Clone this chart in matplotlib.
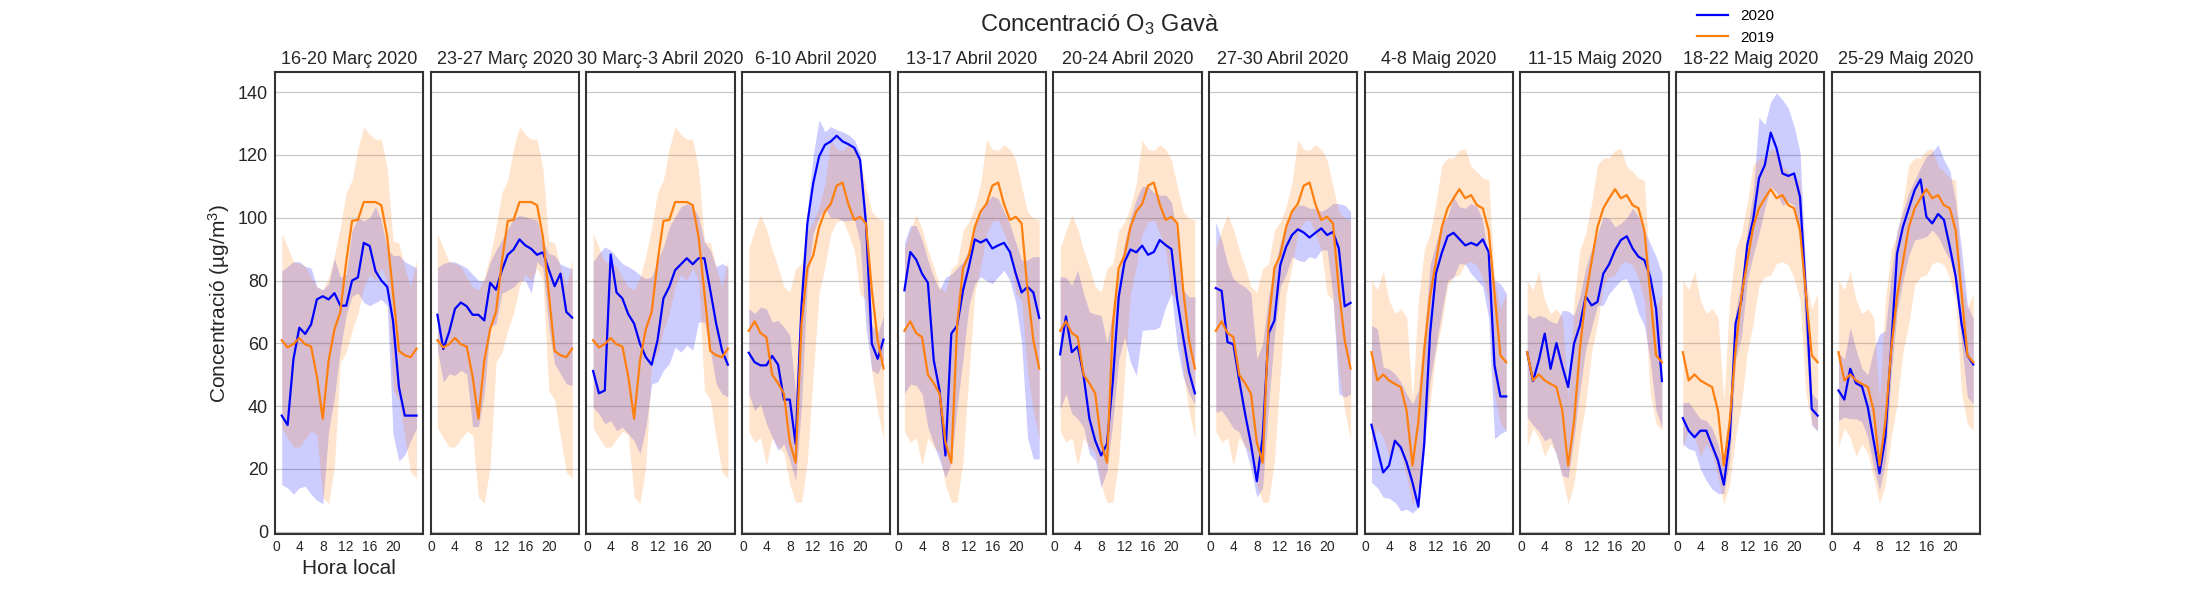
import matplotlib
matplotlib.use('Agg')
import matplotlib.pyplot as plt

plt.rcParams['font.family'] = ['Liberation Sans', 'DejaVu Sans']
plt.rcParams['mathtext.default'] = 'regular'

hours = list(range(1, 25))

titles = ['16-20 Març 2020', '23-27 Març 2020', '30 Març-3 Abril 2020', '6-10 Abril 2020',
          '13-17 Abril 2020', '20-24 Abril 2020', '27-30 Abril 2020', '4-8 Maig 2020',
          '11-15 Maig 2020', '18-22 Maig 2020', '25-29 Maig 2020']

# 2019 (mitjana mensual, mateixa per a totes les setmanes del mes)
mar_2019 = [61, 58.7, 59.8, 61.7, 59.7, 59, 49.5, 36, 54.5, 64.5, 70, 86, 99, 99.3, 105, 105, 105, 104, 94, 76, 57.6, 56.2, 55.6, 58.3]
mar_2019_hi = [95, 90.5, 86, 85.5, 84.5, 81, 78, 77, 81, 88, 97, 108, 112, 122, 129, 126.5, 125, 125, 115.5, 92.5, 92, 84, 78, 87]
mar_2019_lo = [33, 30, 27, 27, 29.5, 32, 31, 11, 9, 21, 54, 57, 64, 69.5, 78, 82, 80, 84, 80, 45, 42, 30, 19, 17]

apr_2019 = [64, 67, 63.3, 62, 50, 47.3, 44, 28.5, 22, 66, 84, 88, 97, 102, 104.4, 110.2, 111.2, 104.3, 99.3, 100.3, 98.2, 77, 61, 52]
apr_2019_hi = [90.2, 96, 100.9, 96.6, 89.7, 84.4, 78, 76.4, 83.8, 85.4, 96, 98.7, 103.5, 111, 124.8, 121.8, 121.4, 123.2, 121.8, 118.4, 109.9, 101.9, 99.8, 99.3]
apr_2019_lo = [32, 28.5, 30, 21, 30, 27, 25, 15, 9.4, 9.4, 22.7, 50, 75.8, 84.4, 95, 98.7, 99.3, 95, 89.7, 75.8, 73.7, 51, 38.5, 29.5]

may_2019 = [57.2, 48.2, 50.1, 48.2, 47.1, 46.1, 38.6, 21.1, 35, 58, 75, 86, 97, 103, 106.2, 109.1, 106.2, 107.2, 104, 103, 96, 76, 56.2, 54]
may_2019_hi = [80, 77, 83, 73.7, 69.5, 71, 68.4, 42, 73.7, 89.7, 95, 104.6, 116.8, 119, 119, 121.5, 122, 116.3, 114.7, 112.6, 112, 80, 71, 76]
may_2019_lo = [27, 33, 30, 24, 28, 25, 17.3, 8.8, 15.2, 30, 40.7, 57.2, 66.3, 78.5, 81.2, 81.7, 85.4, 86, 84.9, 80.6, 73.7, 44, 34.4, 32.2]

# 2020, una setmana per panell
w1 = [37, 34, 55, 65, 63, 66, 74, 75, 74, 76, 72, 72, 80, 81, 92, 91, 83, 80, 78, 67, 46, 37, 37, 37]
w1_hi = [83, 84.5, 86, 86, 84.5, 84, 78, 77, 79, 87, 81, 82, 96, 100, 99, 100, 103.5, 99, 90, 88, 88, 86, 85, 84]
w1_lo = [15, 14, 12, 14, 14.5, 12, 10, 9, 32, 43, 58, 69, 75, 76, 73, 72, 73, 74, 72, 31, 22.5, 24.5, 29, 33]

w2 = [69.1, 58.2, 63.6, 71, 73, 71.8, 69.1, 69.1, 67.3, 79.3, 77.1, 83.3, 88.2, 89.9, 93.1, 91.2, 90.1, 88.2, 89, 83.5, 78.2, 82.2, 70, 68.2]
w2_hi = [84.1, 85.4, 86, 85.9, 85, 84, 82, 80, 80, 85.9, 89.7, 92.9, 96.5, 99.7, 100.7, 100.3, 99.7, 99.3, 92.7, 88.6, 88, 85.2, 84.4, 83.7]
w2_lo = [58, 47.7, 50.3, 49.8, 51.4, 50.3, 33.5, 33.5, 44, 65.2, 66.3, 75.9, 76.9, 78, 80, 80, 76, 86, 84, 65, 53.5, 50.3, 47.1, 46.6]

w3 = [51.2, 44.1, 45, 88.3, 76.2, 74.3, 69.3, 66.3, 59.9, 55.6, 53.2, 61, 74.3, 78, 83.3, 85.2, 87.1, 85.2, 87.1, 87.1, 76.9, 66.3, 57.8, 53.2]
w3_hi = [86, 88.6, 90.7, 89.7, 87.6, 85.4, 84.4, 83.3, 81.7, 80.6, 81.2, 86.5, 90.7, 97.1, 100.3, 103.5, 104.4, 103.5, 100.3, 92.3, 89.7, 84.4, 85.4, 84.4]
w3_lo = [39.7, 37.6, 34.4, 35.4, 32.2, 33.3, 31.2, 29, 24.8, 33.3, 47.1, 47.7, 51.4, 53.5, 58.8, 57.2, 59.4, 57.8, 66.8, 66.8, 57.8, 47.1, 43.9, 42.9]

w4 = [57, 54, 53, 53, 56, 53.2, 42.1, 42.1, 28, 72, 98.2, 111, 119.5, 123.2, 124.3, 126.1, 124.3, 123.4, 122.3, 118.4, 98.2, 59.9, 55.1, 61.2]
w4_hi = [71, 69.5, 71.6, 71, 66.8, 67.3, 65.2, 62.6, 44, 80, 102, 120, 131.2, 127.4, 129, 128, 127.4, 126.4, 124.8, 120.5, 102, 66, 63, 68.9]
w4_lo = [44, 38.6, 40.7, 34.4, 30.1, 25.9, 28, 22.7, 16.3, 40, 80, 95, 100, 103, 100, 100, 99, 99, 99.5, 92, 65, 51.4, 50.3, 54.6]

w5 = [76.9, 89.1, 86.7, 82.2, 79.3, 54.6, 45, 24.3, 63.1, 65.7, 76.9, 84.4, 93.1, 92.1, 93.1, 90.2, 91.2, 92, 89.1, 82.2, 76.2, 78, 76.2, 68.1]
w5_hi = [92, 97.5, 97.5, 93, 86.5, 81, 77, 81, 82, 84, 86, 90, 98, 102, 105, 107, 106, 102, 98, 92, 86.5, 86.5, 87.6, 87.6]
w5_lo = [44, 47, 46.6, 44, 33.3, 28, 22.7, 17.3, 22, 40, 55, 72, 79, 81.2, 80, 79, 81.2, 83.3, 80, 73, 60, 30, 23.2, 23.2]

w6 = [56.5, 68.6, 57.2, 59, 49.8, 36, 29, 24.3, 28, 48.2, 74.8, 86, 89.9, 89, 91.1, 88.2, 89.1, 92.9, 91.3, 90, 73.7, 62, 50.9, 44.1]
w6_hi = [81.2, 81, 78.5, 83.3, 75.9, 70, 69.3, 68.9, 60, 70, 82, 92, 100, 106, 110, 110, 108, 107.2, 107.2, 105, 94, 76.9, 74.8, 74.8]
w6_lo = [39, 44, 37.6, 36, 33.3, 24.8, 22.7, 14.1, 19.5, 35, 55, 62, 54, 49.8, 64.1, 64.4, 64.4, 65.2, 71.6, 75.9, 58.8, 49.3, 43.9, 40.7]

w7 = [77.6, 76.7, 60.4, 59.7, 48.2, 37.6, 28, 16.1, 30.1, 63.1, 67.3, 84.9, 90.7, 94.5, 96.3, 95.3, 93.7, 95.2, 96.6, 94.5, 95.5, 90.2, 71.8, 72.9]
w7_hi = [98.7, 92.9, 85.4, 80.6, 79, 78, 76, 55, 60, 75, 84, 92, 98, 102, 104, 104, 103, 103, 102, 103, 104.5, 104.5, 104, 102]
w7_lo = [38, 38.6, 36, 33, 31.7, 27, 20, 11, 14, 40, 62, 78, 82, 87.6, 86.5, 86, 87.6, 87, 89.7, 89.7, 75, 44, 42.9, 43.9]

w8 = [34.1, 26.4, 18.9, 21.1, 29, 26.9, 22.1, 15.7, 8, 28, 63.1, 82.2, 88.8, 94.1, 95.2, 93.2, 91.2, 92, 91.2, 93.1, 89.1, 53, 43.1, 43.1]
w8_hi = [65.7, 64.7, 52.4, 51.9, 50.3, 47.7, 43.9, 40.7, 45, 62, 85, 92, 98, 100.3, 106.7, 103.5, 103, 104.6, 103.5, 99, 86.5, 80.1, 79, 76]
w8_lo = [15.7, 14.1, 11, 10.7, 9.4, 6.7, 7.2, 6, 7.8, 25, 48, 59, 70, 80, 81, 85.4, 85.2, 82.2, 80.1, 78, 68, 29.6, 31.2, 32.2]

w9 = [57.2, 48, 54.6, 63.1, 51.9, 60.1, 52.7, 46.1, 59.9, 65.7, 75, 72.1, 73.2, 82.2, 85.2, 89.7, 92.9, 94.1, 90.2, 87.6, 86.5, 81.2, 71.1, 48]
w9_hi = [69.5, 67.9, 68.9, 68.4, 67, 66.3, 70.5, 70.3, 68.9, 75, 84, 90, 95, 100.3, 99.8, 97.1, 98.2, 100, 103, 100.3, 96.1, 91.8, 87.6, 82.2]
w9_lo = [36.5, 34, 32, 29, 30, 24.3, 17.9, 17.3, 30, 45, 58, 65, 72.1, 72.1, 75.9, 78, 80.1, 80.6, 76, 69.5, 65.7, 54.6, 38.6, 33.3]

w10 = [36.2, 32.2, 30.1, 32.2, 32.2, 27.4, 22.7, 15, 29.6, 66.3, 73.7, 91.3, 99.3, 112.6, 116.8, 127.1, 122.1, 114.1, 113.3, 114.1, 106.7, 76.4, 39.1, 37]
w10_hi = [41, 41.3, 38.6, 36, 35.4, 33, 28, 20, 40, 70, 80, 96, 108, 132, 129.6, 137, 139.7, 137.6, 134.9, 129, 121, 82, 44, 42]
w10_lo = [28, 26.4, 25.9, 20, 16.3, 13.6, 12.2, 12.2, 22.7, 55, 62, 80, 88, 95, 103, 110, 108, 104, 105, 104, 95, 60, 34, 32]

w11 = [45, 42.1, 51.9, 47.3, 46.3, 39.7, 29, 18.6, 30.1, 58.8, 88.6, 97.1, 103, 108.8, 112.2, 100.3, 98.2, 101.2, 99.3, 90.7, 81.2, 66.3, 56.2, 53.3]
w11_hi = [57, 55, 65, 58, 52, 50, 58, 63, 64, 82, 96, 102, 108, 112, 116, 119.5, 121, 123.2, 118.4, 115, 105, 90, 72, 68]
w11_lo = [35.4, 36.5, 36, 36, 35, 30, 20.5, 13.1, 22, 50, 70, 80, 88, 92.9, 93.4, 94, 96.1, 94, 90, 86.5, 80, 60, 42.9, 40.7]

mean20 = [w1, w2, w3, w4, w5, w6, w7, w8, w9, w10, w11]
hi20 = [w1_hi, w2_hi, w3_hi, w4_hi, w5_hi, w6_hi, w7_hi, w8_hi, w9_hi, w10_hi, w11_hi]
lo20 = [w1_lo, w2_lo, w3_lo, w4_lo, w5_lo, w6_lo, w7_lo, w8_lo, w9_lo, w10_lo, w11_lo]
month19 = ['mar'] * 3 + ['apr'] * 4 + ['may'] * 4
ref19 = {'mar': (mar_2019, mar_2019_lo, mar_2019_hi),
         'apr': (apr_2019, apr_2019_lo, apr_2019_hi),
         'may': (may_2019, may_2019_lo, may_2019_hi)}

fig, axes = plt.subplots(1, 11, figsize=(22, 6), sharey=True)
fig.subplots_adjust(left=0.125, right=0.9, top=0.88, bottom=0.11, wspace=0.05)

for i, ax in enumerate(axes):
    m19, lo19, hi19 = ref19[month19[i]]
    ax.fill_between(hours, lo20[i], hi20[i], color='blue', alpha=0.2, lw=0)
    ax.fill_between(hours, lo19, hi19, color='C1', alpha=0.2, lw=0)
    ax.plot(hours, mean20[i], color='blue', lw=1.6, label='2020')
    ax.plot(hours, m19, color='C1', lw=1.6, label='2019')
    ax.set_title(titles[i], fontsize=13, color='#262626')
    ax.set_xticks([0, 4, 8, 12, 16, 20])
    ax.set_ylim(-0.7, 146.4)
    ax.grid(axis='y', color='#c8c8c8', lw=0.9)
    ax.set_axisbelow(True)
    ax.tick_params(axis='x', length=0, labelsize=10, colors='#262626', pad=4)
    ax.tick_params(axis='y', length=0, labelsize=13, colors='#262626', pad=5)
    for s in ax.spines.values():
        s.set_color('#333333')
        s.set_linewidth(1.5)

axes[0].set_yticks([0, 20, 40, 60, 80, 100, 120, 140])
axes[0].set_xlabel('Hora local', fontsize=15, color='#262626')
axes[0].set_ylabel('Concentració (µg/m$^3$)', fontsize=15, color='#262626')

handles, labels = axes[0].get_legend_handles_labels()
fig.legend(handles, labels, loc='center', bbox_to_anchor=(0.789, 0.955),
           frameon=False, fontsize=11, labelspacing=0.5)
fig.suptitle('Concentració O$_3$ Gavà', fontsize=17, y=0.98, color='#262626')

plt.savefig('out.png', dpi=100)
